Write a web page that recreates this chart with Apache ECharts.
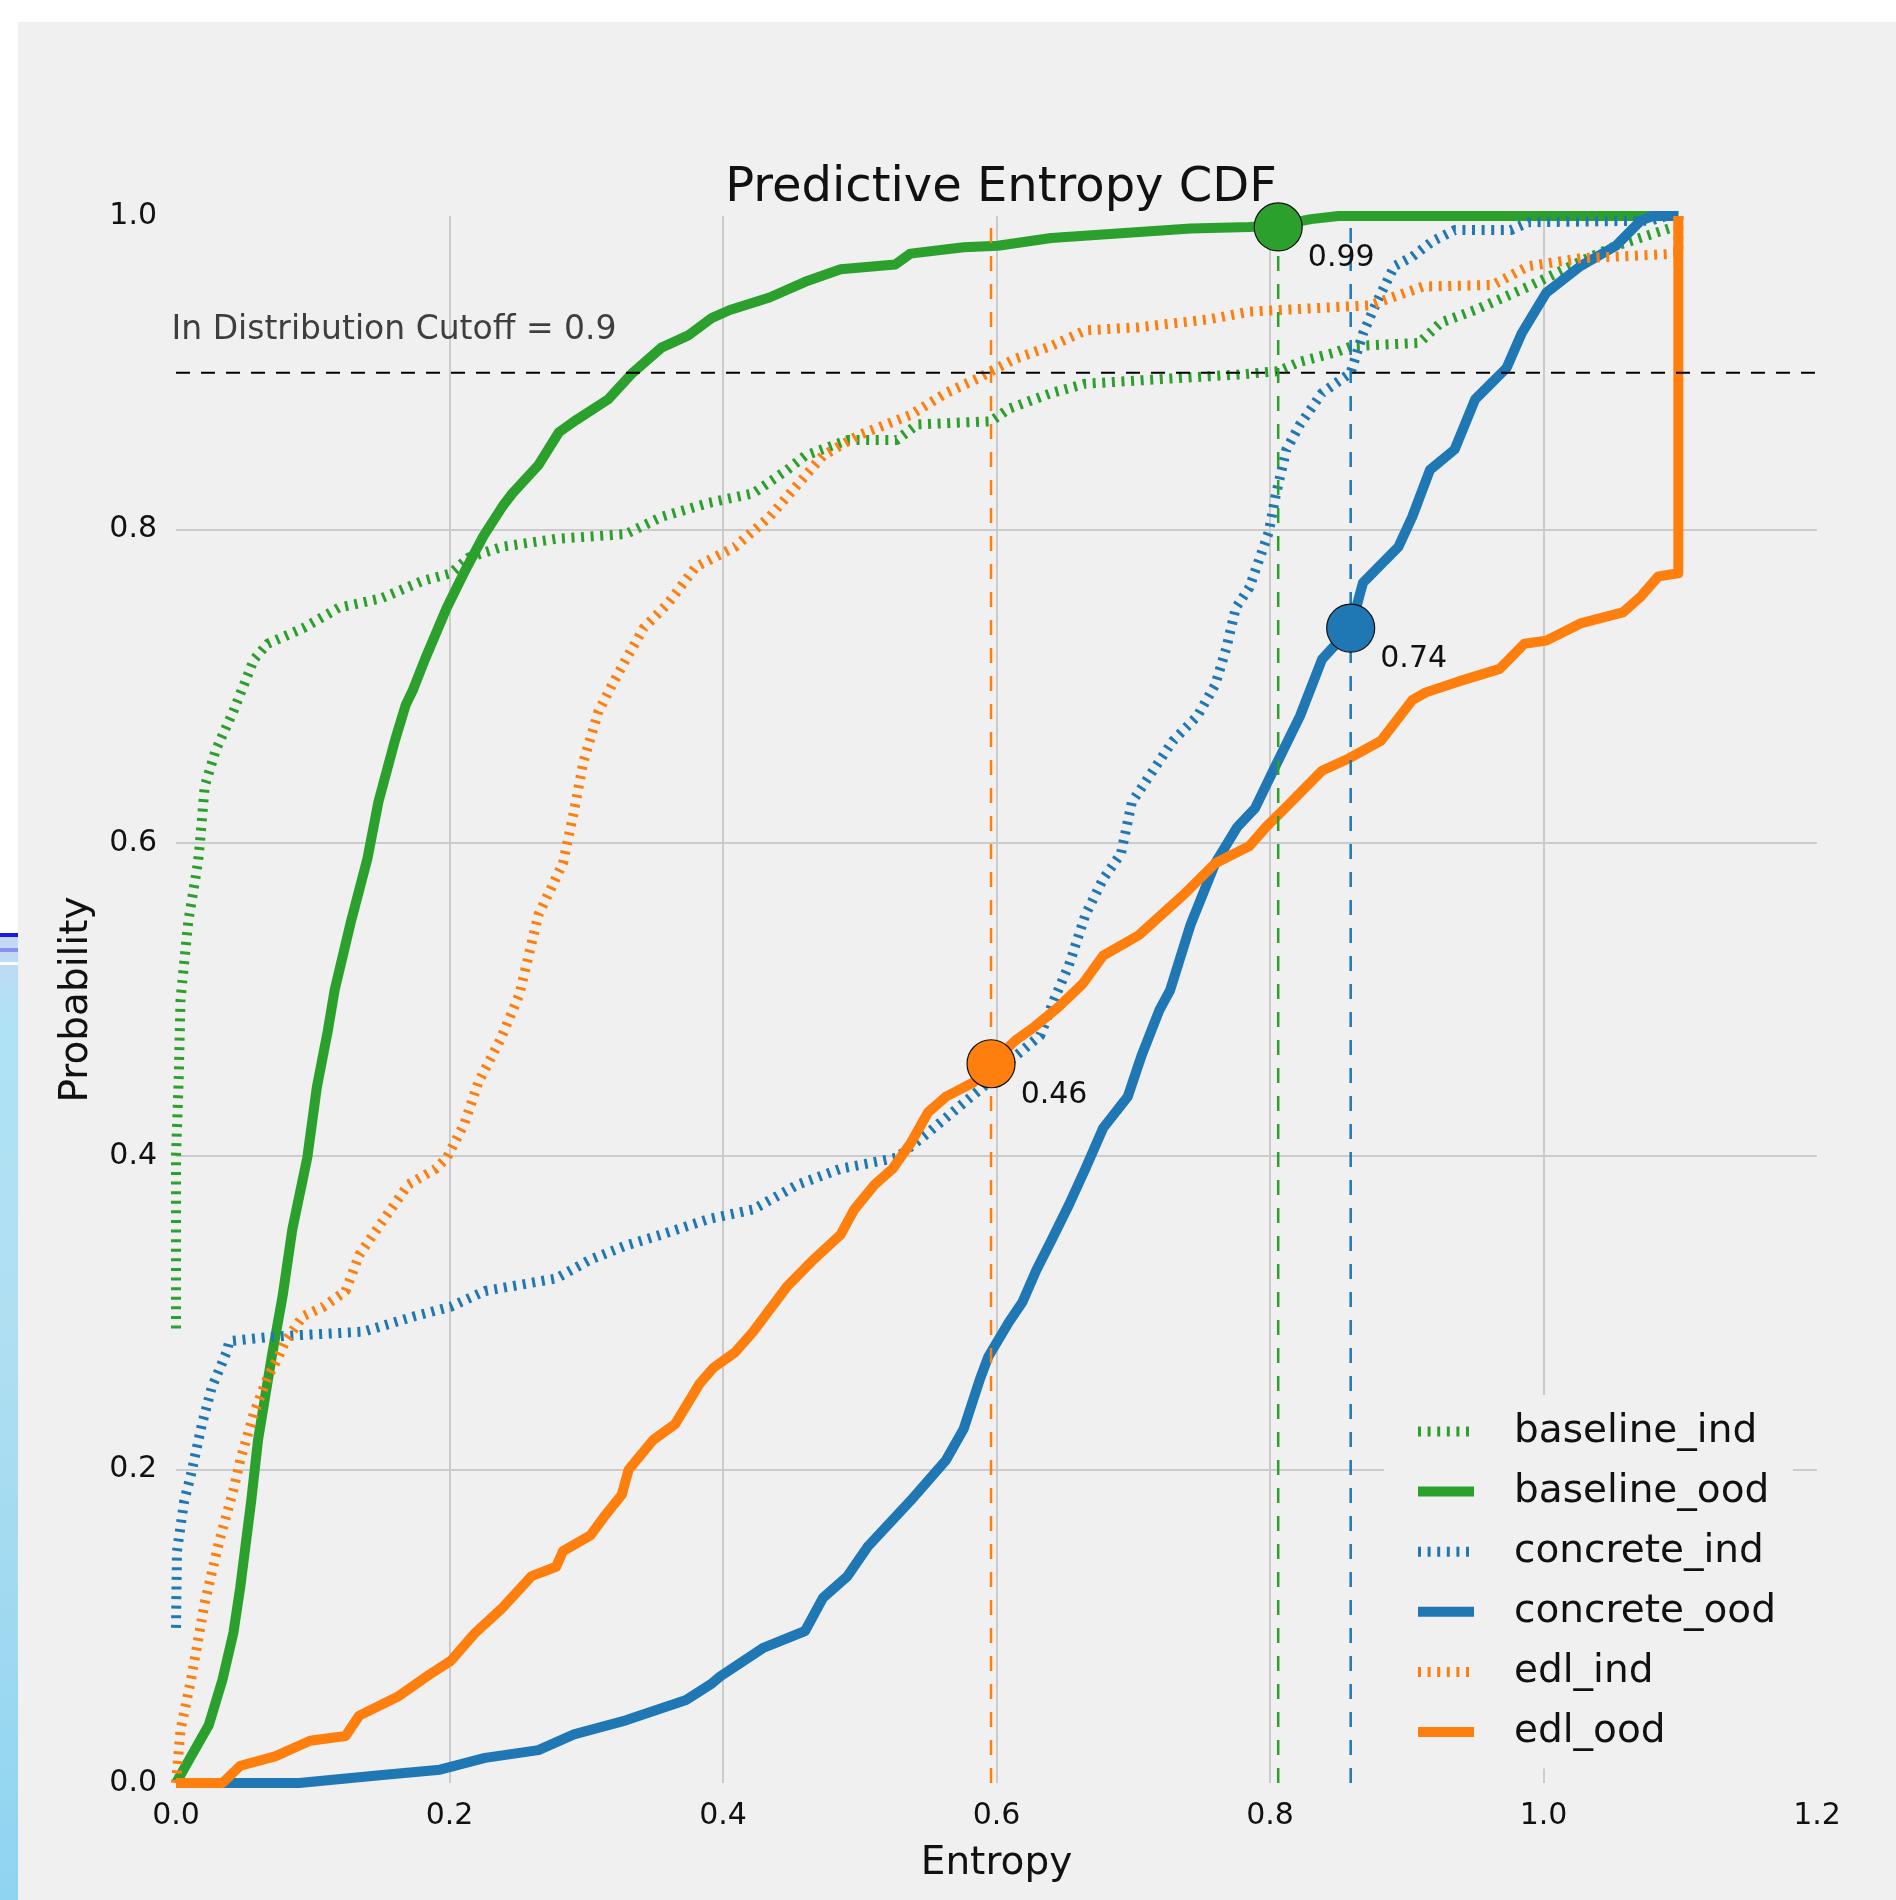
<!DOCTYPE html>
<html><head><meta charset="utf-8">
<script src="https://cdn.jsdelivr.net/npm/echarts@6/dist/echarts.min.js"></script>
<style>html,body{margin:0;padding:0;background:#fff}#c{width:1896px;height:1900px}</style>
</head><body><div id="c"></div>
<script>
// ---- data ----
const seriesNames = ['baseline_ind', 'baseline_ood', 'concrete_ind', 'concrete_ood', 'edl_ind', 'edl_ood'];
const xTicks = [0, 0.2, 0.4, 0.6, 0.8, 1.0, 1.2];
const yTicks = [0, 0.2, 0.4, 0.6, 0.8, 1.0];

const baselineInd = [[0,0.29],[0.0,0.40],[0.002,0.45],[0.0033,0.50],[0.009,0.55],[0.016,0.587],[0.0175,0.60],[0.021,0.636],[0.029,0.659],[0.042,0.684],[0.057,0.717],[0.067,0.727],[0.093,0.737],[0.119,0.75],[0.150,0.756],[0.180,0.767],[0.201,0.772],[0.214,0.782],[0.239,0.789],[0.278,0.794],[0.329,0.797],[0.355,0.808],[0.390,0.817],[0.422,0.823],[0.447,0.838],[0.460,0.847],[0.491,0.857],[0.527,0.857],[0.542,0.867],[0.596,0.869],[0.609,0.877],[0.640,0.887],[0.665,0.893],[0.722,0.896],[0.780,0.899],[0.806,0.901],[0.822,0.907],[0.848,0.913],[0.860,0.917],[0.909,0.919],[0.925,0.932],[0.950,0.940],[0.989,0.955],[1.027,0.971],[1.053,0.981],[1.0986,0.994],[1.0986,1.0]];

const baselineOod = [[0,0],[0.011,0.017],[0.024,0.037],[0.034,0.066],[0.042,0.096],[0.047,0.125],[0.055,0.18],[0.060,0.219],[0.070,0.272],[0.078,0.311],[0.085,0.353],[0.096,0.399],[0.103,0.444],[0.111,0.48],[0.116,0.506],[0.128,0.55],[0.140,0.59],[0.148,0.626],[0.160,0.665],[0.168,0.688],[0.173,0.697],[0.182,0.717],[0.198,0.75],[0.211,0.773],[0.225,0.796],[0.239,0.815],[0.246,0.823],[0.265,0.841],[0.280,0.862],[0.293,0.870],[0.316,0.883],[0.334,0.9],[0.355,0.916],[0.375,0.924],[0.392,0.935],[0.405,0.940],[0.434,0.948],[0.460,0.958],[0.486,0.966],[0.526,0.969],[0.537,0.976],[0.576,0.980],[0.601,0.981],[0.640,0.986],[0.691,0.989],[0.742,0.992],[0.785,0.993],[0.806,0.994],[0.83,0.998],[0.85,1.0],[1.0986,1.0]];

const concreteInd = [[0,0.099],[0.0007,0.148],[0.006,0.18],[0.011,0.197],[0.019,0.229],[0.026,0.252],[0.037,0.275],[0.039,0.282],[0.073,0.285],[0.137,0.288],[0.175,0.298],[0.201,0.304],[0.226,0.314],[0.278,0.322],[0.303,0.334],[0.329,0.343],[0.355,0.35],[0.390,0.36],[0.422,0.366],[0.455,0.382],[0.486,0.392],[0.527,0.399],[0.550,0.415],[0.576,0.434],[0.594,0.447],[0.614,0.464],[0.632,0.477],[0.642,0.4997],[0.653,0.522],[0.665,0.554],[0.678,0.577],[0.691,0.593],[0.699,0.626],[0.709,0.639],[0.729,0.665],[0.747,0.681],[0.760,0.701],[0.768,0.724],[0.775,0.75],[0.785,0.763],[0.799,0.798],[0.804,0.821],[0.812,0.851],[0.822,0.867],[0.838,0.887],[0.859,0.900],[0.868,0.925],[0.878,0.945],[0.891,0.968],[0.904,0.974],[0.919,0.984],[0.935,0.991],[0.976,0.991],[0.989,0.996],[1.078,0.997],[1.09,1.0],[1.0986,1.0]];

const concreteOod = [[0,0],[0.09,0],[0.149,0.005],[0.193,0.0085],[0.226,0.016],[0.265,0.021],[0.291,0.031],[0.329,0.040],[0.373,0.053],[0.391,0.063],[0.398,0.068],[0.429,0.086],[0.460,0.097],[0.473,0.118],[0.491,0.132],[0.506,0.151],[0.537,0.18],[0.563,0.206],[0.576,0.226],[0.588,0.258],[0.594,0.272],[0.609,0.294],[0.619,0.307],[0.629,0.327],[0.640,0.346],[0.653,0.369],[0.665,0.392],[0.678,0.418],[0.696,0.438],[0.706,0.464],[0.719,0.493],[0.727,0.506],[0.742,0.548],[0.760,0.587],[0.776,0.61],[0.789,0.622],[0.804,0.649],[0.822,0.681],[0.838,0.717],[0.859,0.737],[0.868,0.766],[0.894,0.789],[0.904,0.808],[0.917,0.838],[0.935,0.851],[0.950,0.883],[0.973,0.903],[0.984,0.925],[1.002,0.951],[1.027,0.968],[1.053,0.981],[1.071,0.997],[1.08,1.0],[1.0986,1.0]];

const edlInd = [[0,0],[0.0033,0.034],[0.011,0.066],[0.021,0.115],[0.0315,0.154],[0.042,0.187],[0.047,0.206],[0.057,0.236],[0.067,0.259],[0.075,0.272],[0.080,0.282],[0.093,0.298],[0.108,0.304],[0.124,0.314],[0.134,0.337],[0.149,0.356],[0.170,0.382],[0.190,0.392],[0.198,0.399],[0.211,0.421],[0.221,0.447],[0.237,0.474],[0.251,0.503],[0.265,0.554],[0.283,0.587],[0.291,0.62],[0.298,0.652],[0.309,0.684],[0.319,0.701],[0.329,0.717],[0.342,0.737],[0.360,0.753],[0.380,0.776],[0.409,0.789],[0.434,0.808],[0.447,0.821],[0.473,0.847],[0.499,0.860],[0.537,0.873],[0.563,0.887],[0.588,0.897],[0.596,0.901],[0.614,0.909],[0.640,0.917],[0.665,0.927],[0.704,0.929],[0.755,0.934],[0.785,0.939],[0.873,0.943],[0.912,0.955],[0.963,0.956],[0.989,0.968],[1.027,0.973],[1.0986,0.976],[1.0986,1.0]];

const edlOod = [[0,0],[0.034,0],[0.047,0.011],[0.0725,0.017],[0.098,0.027],[0.124,0.030],[0.134,0.043],[0.162,0.055],[0.185,0.069],[0.201,0.078],[0.219,0.096],[0.239,0.112],[0.260,0.132],[0.278,0.138],[0.283,0.148],[0.303,0.158],[0.314,0.171],[0.326,0.184],[0.331,0.2],[0.349,0.219],[0.365,0.229],[0.383,0.255],[0.393,0.265],[0.409,0.275],[0.422,0.288],[0.447,0.317],[0.465,0.333],[0.486,0.35],[0.496,0.366],[0.511,0.382],[0.524,0.392],[0.537,0.408],[0.550,0.428],[0.563,0.438],[0.583,0.447],[0.596,0.459],[0.614,0.474],[0.627,0.482],[0.645,0.495],[0.663,0.51],[0.678,0.528],[0.704,0.541],[0.737,0.567],[0.760,0.587],[0.785,0.598],[0.797,0.61],[0.812,0.623],[0.838,0.646],[0.858,0.654],[0.881,0.665],[0.904,0.691],[0.914,0.696],[0.938,0.703],[0.968,0.711],[0.986,0.727],[1.002,0.729],[1.027,0.740],[1.058,0.747],[1.071,0.757],[1.084,0.770],[1.0986,0.772],[1.0986,1.0]];

const cutoff = 0.9;
const cutoffText = 'In Distribution Cutoff = 0.9';
const thresholds = [0.806, 0.859, 0.596];
const markerValues = [0.993, 0.737, 0.459];
const markerLabels = ['0.99', '0.74', '0.46'];

// ---- styling ----
const FONT = 'DejaVu Sans';
const GREEN = '#2ca02c', BLUE = '#1f77b4', ORANGE = '#ff7f0e';
const markerColors = [GREEN, BLUE, ORANGE];
const DOT = [3, 6.6];

function curve(name, data, color, dotted) {
  return {
    name, type: 'line', data, symbol: 'none', showSymbol: false, clip: false, silent: true,
    lineStyle: { color, width: 10, type: dotted ? DOT : 'solid', cap: 'butt', join: 'round' },
    itemStyle: { color }, z: 2
  };
}

const series = [
  curve('baseline_ind', baselineInd, GREEN, true),
  curve('baseline_ood', baselineOod, GREEN, false),
  curve('concrete_ind', concreteInd, BLUE, true),
  curve('concrete_ood', concreteOod, BLUE, false),
  curve('edl_ind', edlInd, ORANGE, true),
  curve('edl_ood', edlOod, ORANGE, false),
  {
    type: 'line', data: [[0, cutoff], [1.2, cutoff]], symbol: 'none', silent: true, z: 3,
    lineStyle: { color: '#000', width: 2, type: [14, 11] }
  },
  {
    type: 'scatter', data: [[0, cutoff]], symbolSize: 1, silent: true, z: 3,
    itemStyle: { color: 'rgba(0,0,0,0)' },
    label: { show: true, formatter: cutoffText, position: 'right', distance: 0, offset: [-5, -42],
      fontFamily: FONT, fontSize: 33, color: '#111' }
  }
];
thresholds.forEach((t, i) => {
  series.push({
    type: 'line', data: [[t, 0], [t, 1]], symbol: 'none', silent: true, z: 3,
    lineStyle: { color: markerColors[i], width: 2.5, type: [15, 13] }
  });
});
series.push({
  type: 'scatter', symbolSize: 48, silent: true, z: 5, clip: false,
  data: thresholds.map((t, i) => ({
    value: [t, markerValues[i]],
    itemStyle: { color: markerColors[i], borderColor: '#111', borderWidth: 1.2, opacity: 1 },
    label: { formatter: markerLabels[i] }
  })),
  itemStyle: { opacity: 1 },
  label: { show: true, position: 'right', distance: 5, offset: [0, 31], fontFamily: FONT, fontSize: 30, color: '#111' }
});

const chart = echarts.init(document.getElementById('c'), null, { renderer: 'canvas' });
chart.setOption({
  animation: false,
  backgroundColor: '#f0f0f0',
  title: {
    text: 'Predictive Entropy CDF', left: 996, top: 160, textAlign: 'center',
    textStyle: { fontFamily: FONT, fontSize: 48, fontWeight: 'normal', color: '#111' }
  },
  graphic: [
    { type: 'rect', shape: { x: 0, y: 0, width: 1896, height: 22 }, style: { fill: '#ffffff' }, silent: true },
    { type: 'rect', shape: { x: 0, y: 0, width: 18, height: 935 }, style: { fill: '#ffffff' }, silent: true },
    { type: 'rect', shape: { x: 0, y: 935, width: 18, height: 965 }, silent: true,
      style: { fill: new echarts.graphic.LinearGradient(0, 0, 0, 1, [
        { offset: 0, color: '#c4d8f4' }, { offset: 0.1, color: '#aee2f4' },
        { offset: 0.4, color: '#b0dff2' }, { offset: 1, color: '#8fd4f0' }]) } },
    { type: 'rect', shape: { x: 0, y: 933, width: 18, height: 4 }, style: { fill: '#1a1ae6' }, silent: true },
    { type: 'rect', shape: { x: 0, y: 948, width: 18, height: 4 }, style: { fill: '#8a8ff0' }, silent: true },
    { type: 'rect', shape: { x: 0, y: 962, width: 18, height: 3 }, style: { fill: '#ffffff' }, silent: true }
  ],
  legend: {
    data: seriesNames, orient: 'vertical', left: 1384, top: 1395,
    padding: [17, 17, 17, 29], itemWidth: 56, itemHeight: 40, itemGap: 21.1,
    backgroundColor: '#f0f0f0', selectedMode: false,
    itemStyle: { opacity: 0, borderWidth: 0 },
    lineStyle: { width: 'inherit', opacity: 1 },
    textStyle: { fontFamily: FONT, fontSize: 39, color: '#111', padding: [0, 0, 0, 35] }
  },
  grid: { left: 176, right: 79, top: 216, bottom: 117, containLabel: false },
  xAxis: {
    type: 'value', min: xTicks[0], max: xTicks[xTicks.length - 1], interval: 0.2,
    axisLine: { show: false }, axisTick: { show: false },
    axisLabel: { fontFamily: FONT, fontSize: 30, color: '#111', margin: 18, formatter: v => v.toFixed(1) },
    splitLine: { show: true, showMinLine: false, showMaxLine: false, lineStyle: { color: '#cbcbcb', width: 2 } },
    name: 'Entropy', nameLocation: 'middle', nameGap: 61,
    nameTextStyle: { fontFamily: FONT, fontSize: 39, color: '#111' }
  },
  yAxis: {
    type: 'value', min: yTicks[0], max: yTicks[yTicks.length - 1], interval: 0.2,
    axisLine: { show: false }, axisTick: { show: false },
    axisLabel: { fontFamily: FONT, fontSize: 30, color: '#111', margin: 19, formatter: v => v.toFixed(1) },
    splitLine: { show: true, showMinLine: false, showMaxLine: false, lineStyle: { color: '#cbcbcb', width: 2 } },
    name: 'Probability', nameLocation: 'middle', nameGap: 80,
    nameTextStyle: { fontFamily: FONT, fontSize: 39, color: '#111' }
  },
  series
});
</script></body></html>
